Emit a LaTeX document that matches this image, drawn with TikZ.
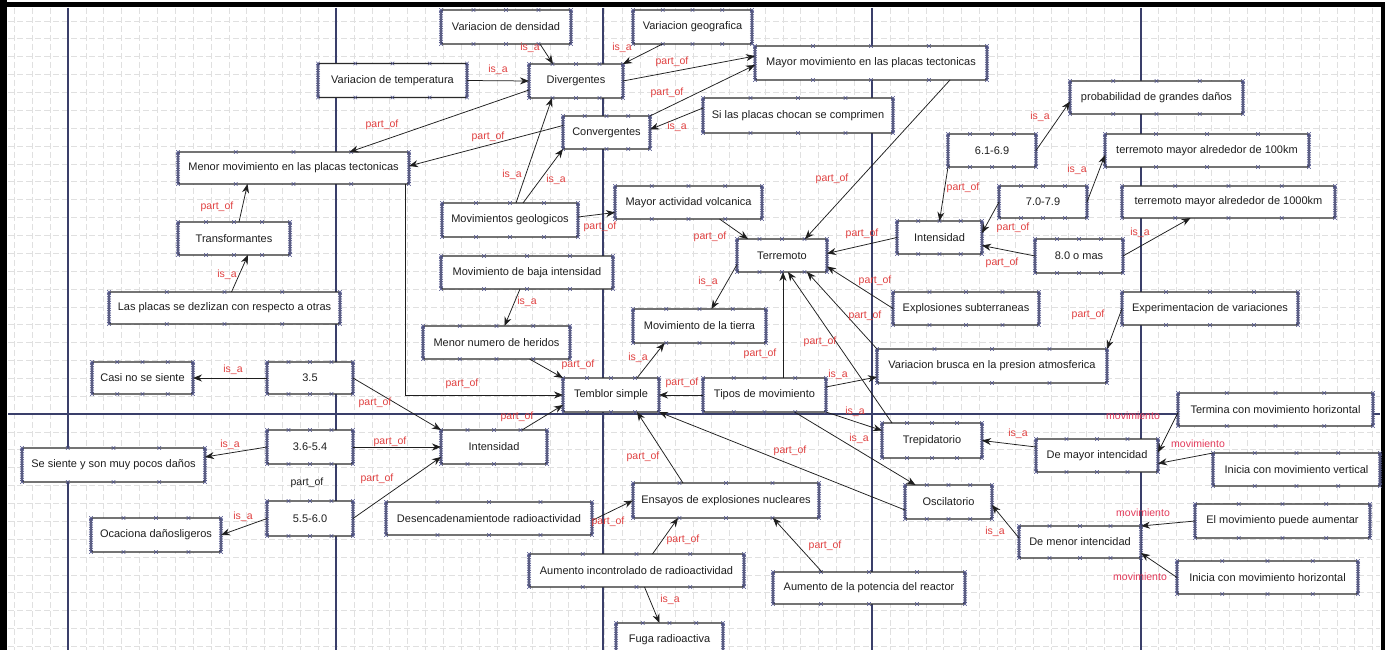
\documentclass[tikz,border=0pt]{standalone}
\usepackage{fontspec}
\setmainfont{Liberation Sans}
\usetikzlibrary{arrows.meta,calc,decorations.pathmorphing}

\definecolor{boxline}{HTML}{2A2A2A}
\definecolor{txt}{HTML}{1E1E1E}
\definecolor{markblue}{HTML}{50548A}
\definecolor{edgeblk}{HTML}{1E1E1E}
\definecolor{lblred}{HTML}{E04040}
\definecolor{movred}{HTML}{E33A5A}
\definecolor{gridgray}{HTML}{E0E0E0}
\definecolor{axisblue}{HTML}{3A3F6A}

\pgfdeclarelayer{bg}
\pgfsetlayers{bg,main}

\tikzset{
  cbox/.style={draw=boxline, line width=1.3pt, fill=white, rounded corners=1.5pt,
    text=txt, font=\fontsize{11}{13}\selectfont, inner sep=1pt, outer sep=0pt},
  sidez/.style={draw=markblue, line width=0.45pt, decorate,
    decoration={zigzag, segment length=3.5pt, amplitude=1.6pt}},
  sidezm/.style={sidez, decoration={zigzag, segment length=3.5pt, amplitude=1.6pt, mirror}},
  xmk/.style={draw=markblue, line width=0.45pt},
  arr/.style={draw=edgeblk, line width=0.75pt, -{Stealth[length=9pt,width=7pt]}},
  lbl/.style={text=lblred, font=\fontsize{10.5}{12}\selectfont, inner sep=0pt},
  mlbl/.style={lbl, text=movred},
  blbl/.style={lbl, text=txt},
  minorgrid/.style={draw=gridgray, line width=0.5pt, dash pattern=on 6pt off 3pt},
  majorgrid/.style={draw=axisblue, line width=1.4pt},
}

% concept box: name, centre x, centre y, width, height, text
\newcommand\cbx[6]{%
  \node[cbox, minimum width=#4pt, minimum height=#5pt] (#1) at (#2,#3) {#6};
  \draw[sidez]  (#1.north west) -- (#1.south west);
  \draw[sidezm] (#1.north west) -- (#1.south west);
  \draw[sidez]  (#1.north east) -- (#1.south east);
  \draw[sidezm] (#1.north east) -- (#1.south east);
  \foreach \f in {0,0.25,0.5,0.75,1}{%
    \draw[xmk] ($(#1.north west)!\f!(#1.north east)$) +(-1.8,-1.8) -- +(1.8,1.8) +(-1.8,1.8) -- +(1.8,-1.8);
    \draw[xmk] ($(#1.south west)!\f!(#1.south east)$) +(-1.8,-1.8) -- +(1.8,1.8) +(-1.8,1.8) -- +(1.8,-1.8);
  }%
}

\begin{document}
\begin{tikzpicture}[x=1pt,y=-1pt]
\useasboundingbox (0,0) rectangle (1385,650);

% sheet, grid and frame
\begin{pgfonlayer}{bg}
  \fill[white] (0,0) rectangle (1385,650);
  \foreach \i in {-3,...,73}
    \draw[minorgrid] ({68+17.87*\i},8) -- ({68+17.87*\i},650);
  \foreach \k in {-22,...,13}
    \draw[minorgrid] (8,{414+17.87*\k}) -- (1380,{414+17.87*\k});
  \foreach \x in {68,336,603,872,1141}
    \draw[majorgrid] (\x,8) -- (\x,650);
  \draw[majorgrid] (8,414) -- (1380,414);
  \fill[black] (0,2.5) rectangle (1385,7.5);
  \fill[black] (0,0) rectangle (7,650);
  \fill[black] (1381,2.5) rectangle (1385,650);
\end{pgfonlayer}

% concepts
\cbx{vden}{506}{27}{130}{34}{Variacion de densidad}
\cbx{vgeo}{692.5}{27}{119}{34}{Variacion geografica}
\cbx{mmov}{871}{63}{232}{34}{Mayor movimiento en las placas tectonicas}
\cbx{vtemp}{392.5}{80.5}{149}{34}{Variacion de temperatura}
\cbx{diverg}{576}{81}{94}{34}{Divergentes}
\cbx{converg}{606.5}{132.5}{87}{33}{Convergentes}
\cbx{sichoc}{798}{115.5}{190}{35}{Si las placas chocan se comprimen}
\cbx{menmov}{293.5}{168}{231}{32}{Menor movimiento en las placas tectonicas}
\cbx{prob}{1156.5}{97.5}{173}{33}{probabilidad de grandes daños}
\cbx{r61}{992}{150.5}{88}{33}{6.1-6.9}
\cbx{t100}{1207}{150.5}{204}{33}{terremoto mayor alrededor de 100km}
\cbx{r70}{1043}{202}{88}{32}{7.0-7.9}
\cbx{t1000}{1228.5}{202}{213}{32}{terremoto mayor alrededor de 1000km}
\cbx{transf}{234}{238.5}{112}{33}{Transformantes}
\cbx{placas}{224.5}{308}{231}{32}{Las placas se dezlizan con respecto a otras}
\cbx{casi}{142.5}{378}{101}{32}{Casi no se siente}
\cbx{r35}{310}{378}{86}{32}{3.5}
\cbx{movgeo}{510}{220}{136}{34}{Movimientos geologicos}
\cbx{volc}{688.5}{202.5}{147}{33}{Mayor actividad volcanica}
\cbx{bajaint}{527}{272.5}{172}{33}{Movimiento de baja intensidad}
\cbx{heridos}{496.5}{342.5}{147}{33}{Menor numero de heridos}
\cbx{movtierra}{699.5}{326}{133}{34}{Movimiento de la tierra}
\cbx{terremoto}{782}{255.5}{90}{33}{Terremoto}
\cbx{temblor}{611}{395}{96}{34}{Temblor simple}
\cbx{tipos}{764.5}{395}{123}{34}{Tipos de movimiento}
\cbx{intR}{939.5}{237.5}{85}{33}{Intensidad}
\cbx{r80}{1079}{256}{88}{34}{8.0 o mas}
\cbx{explos}{966}{308.5}{146}{33}{Explosiones subterraneas}
\cbx{experim}{1210}{308.5}{176}{33}{Experimentacion de variaciones}
\cbx{vbrusca}{992}{366}{230}{34}{Variacion brusca en la presion atmosferica}
\cbx{termina}{1275.5}{409.5}{195}{33}{Termina con movimiento horizontal}
\cbx{intL}{494}{447}{106}{34}{Intensidad}
\cbx{r36}{310}{447}{86}{34}{3.6-5.4}
\cbx{sesiente}{113.5}{465}{183}{34}{Se siente y son muy pocos daños}
\cbx{r55}{310}{518.5}{86}{35}{5.5-6.0}
\cbx{ocasiona}{156}{535}{130}{34}{Ocaciona dañosligeros}
\cbx{desenc}{489}{518.5}{206}{33}{Desencadenamientode radioactividad}
\cbx{ensayos}{726}{500.5}{186}{35}{Ensayos de explosiones nucleares}
\cbx{aumentoinc}{636.5}{570.5}{215}{33}{Aumento incontrolado de radioactividad}
\cbx{potencia}{869}{588}{192}{32}{Aumento de la potencia del reactor}
\cbx{fuga}{669.5}{639.5}{107}{33}{Fuga radioactiva}
\cbx{trepid}{932}{440.5}{100}{35}{Trepidatorio}
\cbx{demayor}{1097}{455.5}{122}{33}{De mayor intencidad}
\cbx{iniciav}{1296.5}{469.5}{167}{33}{Inicia con movimiento vertical}
\cbx{oscil}{948.5}{502}{87}{34}{Oscilatorio}
\cbx{puede}{1282.5}{521}{175}{34}{El movimiento puede aumentar}
\cbx{demenor}{1080}{542}{122}{32}{De menor intencidad}
\cbx{iniciah}{1267.5}{577.5}{181}{33}{Inicia con movimiento horizontal}

% relations
\draw[arr] ([xshift=34pt]vden.south) -- ([xshift=-23pt]diverg.north);
\draw[arr] ([xshift=-30pt]vgeo.south) -- (diverg.north east);
\draw[arr] (vtemp.east) -- (diverg.west);
\draw[arr] (diverg.east) -- ([yshift=7pt]mmov.west);
\draw[arr] (converg.north east) -- ([yshift=-2pt]mmov.west);
\draw[arr] ([yshift=7.5pt]sichoc.west) -- ([yshift=3pt]converg.east);
\draw[arr] ([yshift=-9pt]diverg.west) -- ([xshift=56pt]menmov.north);
\draw[arr] ([yshift=7pt]converg.west) -- ([yshift=2pt]menmov.east);
\draw[arr] ([xshift=6pt]movgeo.north) -- ([xshift=-24pt]diverg.south);
\draw[arr] ([xshift=13pt]movgeo.north) -- (converg.south west);
\draw[arr] ([yshift=3pt]movgeo.east) -- ([yshift=-10pt]volc.west);
\draw[arr] ([xshift=79pt]mmov.south) -- ([xshift=23pt]terremoto.north);
\draw[arr] ([xshift=5pt]transf.north) -- ([xshift=-46pt]menmov.south);
\draw[arr] ([xshift=7pt]placas.north) -- ([xshift=14pt]transf.south);
\draw[arr] (r61.east) -- ([yshift=-4pt]prob.west);
\draw[arr] (r61.south west) -- (intR.north);
\draw[arr] (r70.east) -- ([yshift=-4.5pt]t100.west);
\draw[arr] (r70.west) -- ([yshift=4.5pt]intR.east);
\draw[arr] (r80.east) -- ([xshift=-38pt]t1000.south);
\draw[arr] (r80.west) -- ([yshift=-8pt]intR.east);
\draw[arr] (intR.west) -- ([yshift=2pt]terremoto.east);
\draw[arr] (explos.west) -- ([yshift=-11pt]terremoto.east);
\draw[arr] ([xshift=31pt]volc.south) -- ([xshift=-34pt]terremoto.north);
\draw[arr] ([yshift=-9pt]terremoto.west) -- ([xshift=12pt]movtierra.north);
\draw[arr] ([xshift=-7pt]bajaint.south) -- ([xshift=8pt]heridos.north);
\draw[arr] ([xshift=33pt]heridos.south) -- (temblor.north west);
\draw[arr] ([xshift=26pt]temblor.north) -- ([xshift=-35pt]movtierra.south);
\draw[arr] ([xshift=-4pt]menmov.south east) |- (temblor.west);
\draw[arr] ([xshift=28pt]intL.north) -- ([yshift=-10pt]temblor.west);
\draw[arr] (tipos.west) -- (temblor.east);
\draw[arr] ([xshift=18.5pt]tipos.north) -- ([xshift=1pt]terremoto.south);
\draw[arr] ([yshift=8pt]tipos.east) -- ([yshift=-11pt]vbrusca.west);
\draw[arr] (tipos.south east) -- ([yshift=10pt]trepid.west);
\draw[arr] ([xshift=30pt]tipos.south) -- ([xshift=-33pt]oscil.north);
\draw[arr] (vbrusca.north west) -- ([xshift=25pt]terremoto.south);
\draw[arr] ([xshift=10pt]trepid.north west) -- ([xshift=6pt]terremoto.south);
\draw[arr] (experim.west) -- (vbrusca.north east);
\draw[arr] ([xshift=-43pt]ensayos.north) -- ([xshift=26pt]temblor.south);
\draw[arr] ([yshift=-8pt]oscil.west) -- (temblor.south east);
\draw[arr] (r35.west) -- (casi.east);
\draw[arr] (r35.east) -- (intL.north west);
\draw[arr] (r36.west) -- ([yshift=8pt]sesiente.east);
\draw[arr] (r36.east) -- (intL.west);
\draw[arr] (r55.west) -- (ocasiona.east);
\draw[arr] (r55.east) -- ([yshift=-10pt]intL.west);
\draw[arr] ([yshift=-2pt]desenc.east) -- (ensayos.west);
\draw[arr] ([xshift=16pt]aumentoinc.north) -- ([xshift=-48pt]ensayos.south);
\draw[arr] ([xshift=8pt]aumentoinc.south) -- ([xshift=-10pt]fuga.north);
\draw[arr] ([xshift=-47pt]potencia.north) -- ([xshift=47pt]ensayos.south);
\draw[arr] ([yshift=8.5pt]demayor.west) -- (trepid.east);
\draw[arr] ([yshift=-3pt]termina.west) -- ([yshift=3pt]demayor.east);
\draw[arr] (iniciav.north west) -- ([yshift=-8pt]demayor.east);
\draw[arr] ([yshift=4pt]demenor.west) -- ([yshift=-3pt]oscil.east);
\draw[arr] (puede.west) -- (demenor.north east);
\draw[arr] (iniciah.west) -- ([yshift=-11pt]demenor.east);

% relation labels
\node[lbl] (la1) at (530,48) {is\_a};
\node[lbl] (la2) at (622,48) {is\_a};
\node[lbl] (la3) at (498,70) {is\_a};
\node[lbl] (la4) at (672,62) {part\_of};
\node[lbl] (la5) at (667,93) {part\_of};
\node[lbl] (la6) at (677,127) {is\_a};
\node[lbl] (la7) at (382,125) {part\_of};
\node[lbl] (la8) at (488,137) {part\_of};
\node[lbl] (la9) at (512,175) {is\_a};
\node[lbl] (la10) at (556,180) {is\_a};
\node[lbl] (la11) at (600,227) {part\_of};
\node[lbl] (la12) at (832,179) {part\_of};
\node[lbl] (la13) at (217,207) {part\_of};
\node[lbl] (la14) at (227,275) {is\_a};
\node[lbl] (la15) at (1040,117) {is\_a};
\node[lbl] (la16) at (963,188) {part\_of};
\node[lbl] (la17) at (1077,170) {is\_a};
\node[lbl] (la18) at (1013,228) {part\_of};
\node[lbl] (la19) at (1140,233) {is\_a};
\node[lbl] (la20) at (1002,263) {part\_of};
\node[lbl] (la21) at (862,234) {part\_of};
\node[lbl] (la22) at (875,281) {part\_of};
\node[lbl] (la23) at (865,316) {part\_of};
\node[lbl] (la24) at (820,342) {part\_of};
\node[lbl] (la25) at (760,354) {part\_of};
\node[lbl] (la26) at (710,237) {part\_of};
\node[lbl] (la27) at (708,282) {is\_a};
\node[lbl] (la28) at (527,302) {is\_a};
\node[lbl] (la29) at (578,365) {part\_of};
\node[lbl] (la30) at (638,358) {is\_a};
\node[lbl] (la31) at (462,384) {part\_of};
\node[lbl] (la32) at (517,417) {part\_of};
\node[lbl] (la33) at (682,383) {part\_of};
\node[lbl] (la34) at (838,375) {is\_a};
\node[lbl] (la35) at (855,412) {is\_a};
\node[lbl] (la36) at (859,439) {is\_a};
\node[lbl] (la37) at (1088,315) {part\_of};
\node[lbl] (la38) at (643,457) {part\_of};
\node[lbl] (la39) at (790,451) {part\_of};
\node[lbl] (la40) at (233,370) {is\_a};
\node[lbl] (la41) at (375,403) {part\_of};
\node[lbl] (la42) at (230,445) {is\_a};
\node[lbl] (la43) at (390,442) {part\_of};
\node[lbl] (la44) at (243,517) {is\_a};
\node[lbl] (la45) at (377,479) {part\_of};
\node[blbl] (la46) at (307,483) {part\_of};
\node[lbl] (la47) at (608,522) {part\_of};
\node[lbl] (la48) at (683,540) {part\_of};
\node[lbl] (la49) at (670,600) {is\_a};
\node[lbl] (la50) at (825,546) {part\_of};
\node[lbl] (la51) at (1018,434) {is\_a};
\node[mlbl] (la52) at (1133,416) {movimiento};
\node[mlbl] (la53) at (1198,444) {movimiento};
\node[lbl] (la54) at (995,532) {is\_a};
\node[mlbl] (la55) at (1143,513) {movimiento};
\node[mlbl] (la56) at (1140,577) {movimiento};
\end{tikzpicture}
\end{document}
